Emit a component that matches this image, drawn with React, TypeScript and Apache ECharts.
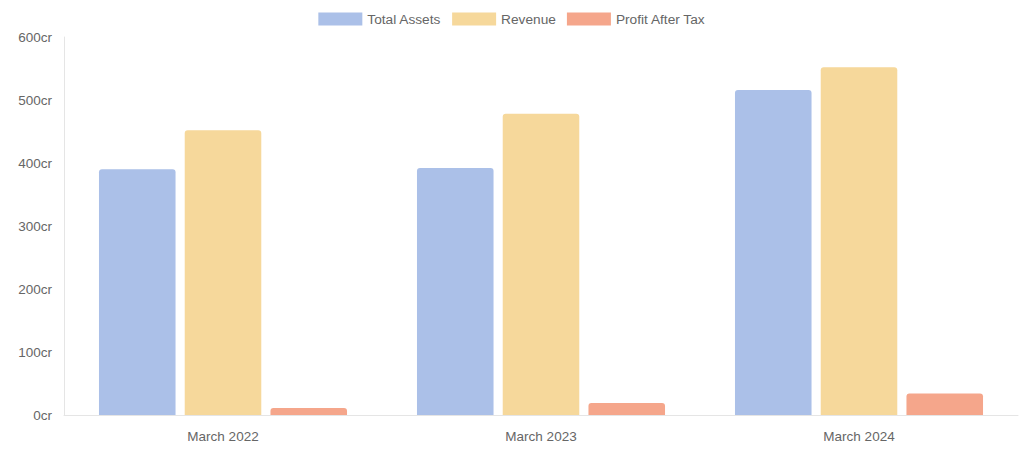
import React, { useEffect, useRef } from "react";
import * as echarts from "echarts";

const categories = ["March 2022", "March 2023", "March 2024"];
const totalAssets = [390, 392, 516];
const revenue = [452, 478, 552];
const profitAfterTax = [11, 19, 34];
const seriesNames = ["Total Assets", "Revenue", "Profit After Tax"];
const colors = ["#abc0e8", "#f6d89b", "#f5a68b"];

export default function App() {
  const ref = useRef<HTMLDivElement>(null);
  useEffect(() => {
    const chart = echarts.init(ref.current!, null, { renderer: "svg" });
    const dataSets = [totalAssets, revenue, profitAfterTax];
    chart.setOption({
      animation: false,
      textStyle: { fontFamily: "Liberation Sans, Arial, sans-serif" },
      legend: {
        top: 7,
        left: "center",
        itemWidth: 44,
        itemHeight: 13,
        itemGap: 11,
        textStyle: { color: "#666", fontSize: 13.7 },
        icon: "rect",
      },
      grid: { left: 64, right: 6, top: 37, bottom: 35, containLabel: false },
      xAxis: {
        type: "category",
        data: categories,
        axisLine: { lineStyle: { color: "#e5e5e5" } },
        axisTick: { show: false },
        axisLabel: { color: "#666", fontSize: 13.5, margin: 14 },
      },
      yAxis: {
        type: "value",
        min: 0,
        max: 600,
        interval: 100,
        axisLine: { show: true, lineStyle: { color: "#e5e5e5" } },
        axisTick: { show: false },
        splitLine: { show: false },
        axisLabel: { color: "#666", fontSize: 13.5, margin: 12, formatter: (v: number) => v + "cr" },
      },
      series: dataSets.map((d, i) => ({
        name: seriesNames[i],
        type: "bar",
        data: d,
        barGap: "12%",
        barCategoryGap: "22%",
        itemStyle: { color: colors[i], borderRadius: [3, 3, 0, 0] },
      })),
    });
    return () => chart.dispose();
  }, []);
  return (
    <div
      ref={ref}
      style={{ position: "fixed", left: 0, top: 0, width: 1024, height: 450, background: "#fff" }}
    />
  );
}
